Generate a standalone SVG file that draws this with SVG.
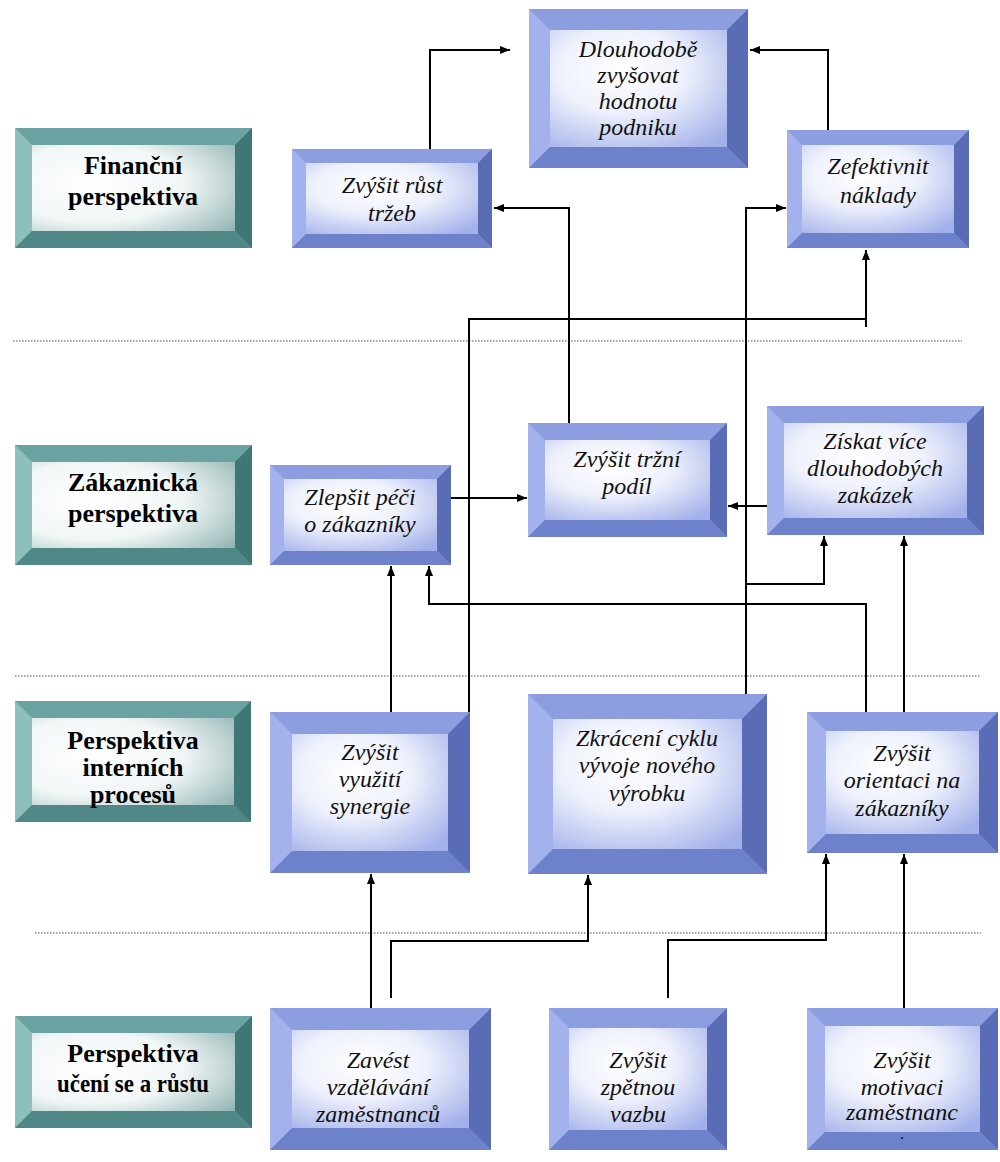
<svg xmlns="http://www.w3.org/2000/svg" width="1000" height="1162" viewBox="0 0 1000 1162">
<style>
.bt{fill:#8d9ee0}.bl{fill:#a3b2ec}.br{fill:#5a6cb6}.bb{fill:#6e81cb}.bf{fill:url(#gBlue)}
.tt{fill:#6aa3a1}.tl{fill:#8dbfbd}.tr{fill:#3f7776}.tb{fill:#4f8886}.tf{fill:url(#gTeal)}
.lbl{font-family:"Liberation Serif","DejaVu Serif",serif;font-weight:bold;font-size:26px;text-anchor:middle;fill:#000}
.txt{font-family:"Liberation Serif","DejaVu Serif",serif;font-style:italic;font-size:24px;text-anchor:middle;fill:#111}
.sm{font-family:"Liberation Serif","DejaVu Serif",serif;font-weight:bold;font-size:12px;text-anchor:middle;fill:#111}
.con{fill:none;stroke:#000;stroke-width:2}
.dot{fill:none;stroke:#8a8a8a;stroke-width:1.5;stroke-dasharray:1.5 1.5}
</style>
<defs>
<radialGradient id="gBlue" cx="0.4" cy="0.35" r="0.8">
<stop offset="0" stop-color="#ffffff"/><stop offset="0.45" stop-color="#eef1fc"/><stop offset="1" stop-color="#a3b1ea"/>
</radialGradient>
<radialGradient id="gTeal" cx="0.3" cy="0.45" r="0.9">
<stop offset="0" stop-color="#ffffff"/><stop offset="0.5" stop-color="#f1f6f6"/><stop offset="1" stop-color="#8db1b0"/>
</radialGradient>
<marker id="ah" viewBox="0 0 10 10" refX="10" refY="5" markerWidth="10" markerHeight="10" markerUnits="userSpaceOnUse" orient="auto">
<path d="M0,1 L10,5 L0,9 z" fill="#000"/>
</marker>
</defs>
<rect width="1000" height="1162" fill="#ffffff"/>

<g id="separators">
<line class="dot" x1="13" y1="341" x2="962" y2="341"/>
<line class="dot" x1="15" y1="676" x2="981" y2="676"/>
<line class="dot" x1="35" y1="933" x2="981" y2="933"/>
</g>

<g id="label-financni">
<rect class="tt" x="15" y="128" width="237" height="120"/>
<polygon class="tl" points="15,128 32,145 32,231 15,248"/>
<polygon class="tr" points="252,128 252,248 235,231 235,145"/>
<polygon class="tb" points="15,248 32,231 235,231 252,248"/>
<rect class="tf" x="32" y="145" width="203" height="86"/>
<text class="lbl" x="133"><tspan x="133" y="174">Finanční</tspan><tspan x="133" y="205">perspektiva</tspan></text>
</g>
<g id="label-zakaznicka">
<rect class="tt" x="15" y="445" width="237" height="120"/>
<polygon class="tl" points="15,445 32,462 32,548 15,565"/>
<polygon class="tr" points="252,445 252,565 235,548 235,462"/>
<polygon class="tb" points="15,565 32,548 235,548 252,565"/>
<rect class="tf" x="32" y="462" width="203" height="86"/>
<text class="lbl" x="133"><tspan x="133" y="491">Zákaznická</tspan><tspan x="133" y="522">perspektiva</tspan></text>
</g>
<g id="label-interni">
<rect class="tt" x="15" y="701" width="236" height="121"/>
<polygon class="tl" points="15,701 32,718 32,805 15,822"/>
<polygon class="tr" points="251,701 251,822 234,805 234,718"/>
<polygon class="tb" points="15,822 32,805 234,805 251,822"/>
<rect class="tf" x="32" y="718" width="202" height="87"/>
<text class="lbl" x="133"><tspan x="133" y="749">Perspektiva</tspan><tspan x="133" y="776">interních</tspan><tspan x="133" y="803">procesů</tspan></text>
</g>
<g id="label-uceni">
<rect class="tt" x="15" y="1016" width="237" height="112"/>
<polygon class="tl" points="15,1016 32,1033 32,1111 15,1128"/>
<polygon class="tr" points="252,1016 252,1128 235,1111 235,1033"/>
<polygon class="tb" points="15,1128 32,1111 235,1111 252,1128"/>
<rect class="tf" x="32" y="1033" width="203" height="78"/>
<text class="lbl" x="133"><tspan x="133" y="1062">Perspektiva</tspan><tspan x="133" y="1092" textLength="152" lengthAdjust="spacingAndGlyphs">učení se a růstu</tspan></text>
</g>

<g id="n-dlouhodobe">
<rect class="bt" x="529" y="9" width="219" height="159"/>
<polygon class="bl" points="529,9 550,30 550,147 529,168"/>
<polygon class="br" points="748,9 748,168 727,147 727,30"/>
<polygon class="bb" points="529,168 550,147 727,147 748,168"/>
<rect class="bf" x="550" y="30" width="177" height="117"/>
<text class="txt"><tspan x="638" y="57">Dlouhodobě</tspan><tspan x="638" y="83">zvyšovat</tspan><tspan x="638" y="109">hodnotu</tspan><tspan x="638" y="135">podniku</tspan></text>
</g>
<g id="n-rust-trzeb">
<rect class="bt" x="292" y="149" width="200" height="99"/>
<polygon class="bl" points="292,149 306,163 306,234 292,248"/>
<polygon class="br" points="492,149 492,248 478,234 478,163"/>
<polygon class="bb" points="292,248 306,234 478,234 492,248"/>
<rect class="bf" x="306" y="163" width="172" height="71"/>
<text class="txt"><tspan x="392" y="193">Zvýšit růst</tspan><tspan x="392" y="221">tržeb</tspan></text>
</g>
<g id="n-naklady">
<rect class="bt" x="787" y="130" width="182" height="118"/>
<polygon class="bl" points="787,130 802,145 802,233 787,248"/>
<polygon class="br" points="969,130 969,248 954,233 954,145"/>
<polygon class="bb" points="787,248 802,233 954,233 969,248"/>
<rect class="bf" x="802" y="145" width="152" height="88"/>
<text class="txt"><tspan x="878" y="174">Zefektivnit</tspan><tspan x="878" y="203">náklady</tspan></text>
</g>
<g id="n-pece">
<rect class="bt" x="270" y="465" width="181" height="100"/>
<polygon class="bl" points="270,465 284,479 284,551 270,565"/>
<polygon class="br" points="451,465 451,565 437,551 437,479"/>
<polygon class="bb" points="270,565 284,551 437,551 451,565"/>
<rect class="bf" x="284" y="479" width="153" height="72"/>
<text class="txt"><tspan x="360" y="505">Zlepšit péči</tspan><tspan x="360" y="532">o zákazníky</tspan></text>
</g>
<g id="n-podil">
<rect class="bt" x="528" y="423" width="199" height="114"/>
<polygon class="bl" points="528,423 545,440 545,520 528,537"/>
<polygon class="br" points="727,423 727,537 710,520 710,440"/>
<polygon class="bb" points="528,537 545,520 710,520 727,537"/>
<rect class="bf" x="545" y="440" width="165" height="80"/>
<text class="txt"><tspan x="627" y="467">Zvýšit tržní</tspan><tspan x="627" y="494">podíl</tspan></text>
</g>
<g id="n-zakazky">
<rect class="bt" x="767" y="406" width="217" height="129"/>
<polygon class="bl" points="767,406 784,423 784,518 767,535"/>
<polygon class="br" points="984,406 984,535 967,518 967,423"/>
<polygon class="bb" points="767,535 784,518 967,518 984,535"/>
<rect class="bf" x="784" y="423" width="183" height="95"/>
<text class="txt"><tspan x="875" y="449">Získat více</tspan><tspan x="875" y="476">dlouhodobých</tspan><tspan x="875" y="503">zakázek</tspan></text>
</g>
<g id="n-synergie">
<rect class="bt" x="270" y="712" width="200" height="161"/>
<polygon class="bl" points="270,712 292,734 292,851 270,873"/>
<polygon class="br" points="470,712 470,873 448,851 448,734"/>
<polygon class="bb" points="270,873 292,851 448,851 470,873"/>
<rect class="bf" x="292" y="734" width="156" height="117"/>
<text class="txt"><tspan x="370" y="760">Zvýšit</tspan><tspan x="370" y="787">využití</tspan><tspan x="370" y="814">synergie</tspan></text>
</g>
<g id="n-cyklus">
<rect class="bt" x="528" y="694" width="239" height="180"/>
<polygon class="bl" points="528,694 553,719 553,849 528,874"/>
<polygon class="br" points="767,694 767,874 742,849 742,719"/>
<polygon class="bb" points="528,874 553,849 742,849 767,874"/>
<rect class="bf" x="553" y="719" width="189" height="130"/>
<text class="txt"><tspan x="647" y="746">Zkrácení cyklu</tspan><tspan x="647" y="773">vývoje nového</tspan><tspan x="647" y="801">výrobku</tspan></text>
</g>
<g id="n-orientace">
<rect class="bt" x="807" y="712" width="191" height="141"/>
<polygon class="bl" points="807,712 826,731 826,834 807,853"/>
<polygon class="br" points="998,712 998,853 979,834 979,731"/>
<polygon class="bb" points="807,853 826,834 979,834 998,853"/>
<rect class="bf" x="826" y="731" width="153" height="103"/>
<text class="txt"><tspan x="902" y="761">Zvýšit</tspan><tspan x="902" y="788">orientaci na</tspan><tspan x="902" y="816">zákazníky</tspan></text>
</g>
<g id="n-vzdelavani">
<rect class="bt" x="270" y="1008" width="221" height="142"/>
<polygon class="bl" points="270,1008 292,1030 292,1128 270,1150"/>
<polygon class="br" points="491,1008 491,1150 469,1128 469,1030"/>
<polygon class="bb" points="270,1150 292,1128 469,1128 491,1150"/>
<rect class="bf" x="292" y="1030" width="177" height="98"/>
<text class="txt"><tspan x="378" y="1068">Zavést</tspan><tspan x="378" y="1095">vzdělávání</tspan><tspan x="378" y="1122">zaměstnanců</tspan></text>
</g>
<g id="n-vazba">
<rect class="bt" x="549" y="1008" width="178" height="142"/>
<polygon class="bl" points="549,1008 569,1028 569,1130 549,1150"/>
<polygon class="br" points="727,1008 727,1150 707,1130 707,1028"/>
<polygon class="bb" points="549,1150 569,1130 707,1130 727,1150"/>
<rect class="bf" x="569" y="1028" width="138" height="102"/>
<text class="txt"><tspan x="638" y="1068">Zvýšit</tspan><tspan x="638" y="1095">zpětnou</tspan><tspan x="638" y="1122">vazbu</tspan></text>
</g>
<g id="n-motivace">
<rect class="bt" x="807" y="1008" width="191" height="142"/>
<polygon class="bl" points="807,1008 825,1026 825,1132 807,1150"/>
<polygon class="br" points="998,1008 998,1150 980,1132 980,1026"/>
<polygon class="bb" points="807,1150 825,1132 980,1132 998,1150"/>
<rect class="bf" x="825" y="1026" width="155" height="106"/>
<text class="txt"><tspan x="902" y="1068">Zvýšit</tspan><tspan x="902" y="1095">motivaci</tspan><tspan x="902" y="1120">zaměstnanc</tspan></text>
<text class="sm" x="902" y="1139">.</text>
</g>

<g id="connectors">
<path class="con" marker-end="url(#ah)" d="M430,149 V50 H510"/>
<path class="con" marker-end="url(#ah)" d="M828,130 V50 H750"/>
<path class="con" marker-end="url(#ah)" d="M569,423 V208 H494"/>
<path class="con" marker-end="url(#ah)" d="M746,694 V208 H786"/>
<path class="con" marker-end="url(#ah)" d="M469,712 V319 H866 M866,327 V250"/>
<path class="con" marker-end="url(#ah)" d="M451,498 H527"/>
<path class="con" marker-end="url(#ah)" d="M767,506 H728"/>
<path class="con" marker-end="url(#ah)" d="M391,712 V566"/>
<path class="con" marker-end="url(#ah)" d="M866,712 V604 H429 V566"/>
<path class="con" marker-end="url(#ah)" d="M746,584 H824 V536"/>
<path class="con" marker-end="url(#ah)" d="M904,712 V536"/>
<path class="con" marker-end="url(#ah)" d="M371,1008 V874"/>
<path class="con" marker-end="url(#ah)" d="M391,998 V941 H588 V875"/>
<path class="con" marker-end="url(#ah)" d="M668,998 V940 H826 V854"/>
<path class="con" marker-end="url(#ah)" d="M904,1008 V854"/>
</g>
</svg>
